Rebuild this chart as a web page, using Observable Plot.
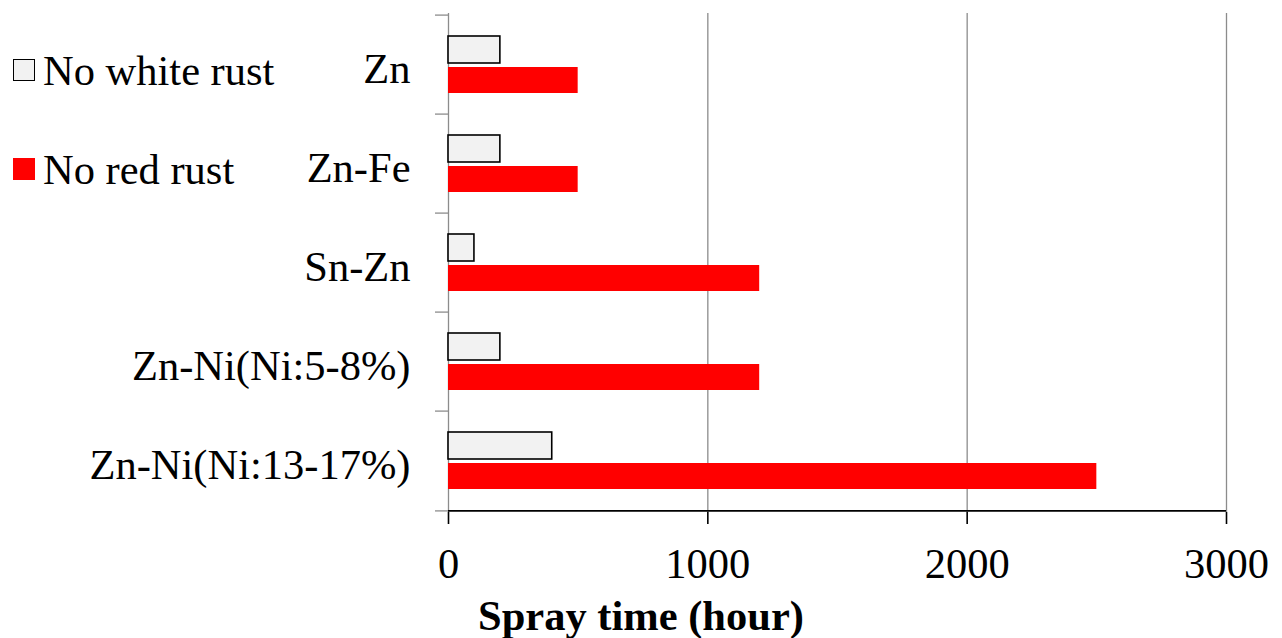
<!DOCTYPE html>
<html>
<head>
<meta charset="utf-8">
<script src="https://cdn.jsdelivr.net/npm/d3@7"></script>
<script src="https://cdn.jsdelivr.net/npm/@observablehq/plot@0.6"></script>
<style>
  html, body { margin: 0; padding: 0; background: #fff; }
  #wrap { position: relative; width: 1282px; height: 638px; font-family: "Liberation Serif", "Times New Roman", serif; }
  #legend { position: absolute; left: 0; top: 0; }
  .item { position: absolute; left: 13px; white-space: nowrap; font-size: 42.5px; line-height: 42px; color: #000; font-family: "Liberation Serif", serif; }
  .sw { position: absolute; left: 0; width: 22px; height: 22px; box-sizing: border-box; }
  .lbl { position: absolute; left: 30px; top: 0; }
  #title { position: absolute; left: 0; width: 1282px; text-align: center; font-weight: bold; font-size: 42.5px; line-height: 42px; font-family: "Liberation Serif", serif; }
</style>
</head>
<body>
<div id="wrap"></div>
<script>
const categories = ["Zn", "Zn-Fe", "Sn-Zn", "Zn-Ni(Ni:5-8%)", "Zn-Ni(Ni:13-17%)"];
const noWhiteRust = [200, 200, 100, 200, 400];
const noRedRust = [500, 500, 1200, 1200, 2500];
const xTicks = [0, 1000, 2000, 3000];
const seriesNames = ["No white rust", "No red rust"];
const seriesFills = ["#f2f2f2", "#ff0000"];
const xTitle = "Spray time (hour)";

const W = 1282, H = 638, mTop = 13, mBottom = 126, mLeft = 448, mRight = 56;
const step = (H - mTop - mBottom) / categories.length;

const white = categories.map((c, i) => ({cat: c, value: noWhiteRust[i]}));
const red = categories.map((c, i) => ({cat: c, value: noRedRust[i]}));

const chart = Plot.plot({
  width: W, height: H,
  marginTop: mTop, marginBottom: mBottom, marginLeft: mLeft, marginRight: mRight,
  style: {fontFamily: "Liberation Serif, serif", fontSize: "42.5px", color: "#000", background: "#fff"},
  x: {domain: [0, 3000], ticks: xTicks, label: null},
  y: {domain: categories, padding: 0, label: null},
  marks: [
    Plot.gridX(xTicks, {stroke: "#8c8c8c", strokeOpacity: 1, strokeWidth: 1.3}),
    Plot.barX(white, {x: "value", y: "cat", fill: seriesFills[0], stroke: "#000", strokeWidth: 1.6, insetTop: 21, insetBottom: 51}),
    Plot.barX(red, {x: "value", y: "cat", fill: seriesFills[1], insetTop: 52, insetBottom: 21}),
    Plot.axisY(categories, {tickSize: 13, text: null, label: null, dy: -step / 2, stroke: "#8c8c8c", strokeWidth: 1.3}),
    Plot.axisY([categories[categories.length - 1]], {tickSize: 13, text: null, label: null, dy: step / 2, stroke: "#8c8c8c", strokeWidth: 1.3}),
    Plot.axisY({tickSize: 0, tickPadding: 38, label: null, fontSize: 42.5, dy: 4}),
    Plot.ruleY([categories[categories.length - 1]], {dy: step / 2, stroke: "#000", strokeWidth: 1.6}),
    Plot.axisX(xTicks, {tickSize: 12, tickPadding: 23, label: null, stroke: "#000", strokeWidth: 1.6, fontSize: 42.5, tickFormat: d => String(d)})
  ]
});

const wrap = document.getElementById("wrap");
wrap.appendChild(chart);

// legend
const legend = document.createElement("div");
legend.id = "legend";
const itemTops = [50, 149];
seriesNames.forEach((name, i) => {
  const it = document.createElement("div");
  it.className = "item";
  it.style.top = itemTops[i] + "px";
  const sw = document.createElement("div");
  sw.className = "sw";
  sw.style.top = "9px";
  sw.style.background = seriesFills[i];
  if (i === 0) sw.style.border = "1.6px solid #000";
  const lb = document.createElement("span");
  lb.className = "lbl";
  lb.textContent = name;
  it.appendChild(sw);
  it.appendChild(lb);
  legend.appendChild(it);
});
wrap.appendChild(legend);

const t = document.createElement("div");
t.id = "title";
t.style.top = "595px";
t.textContent = xTitle;
wrap.appendChild(t);
</script>
</body>
</html>
